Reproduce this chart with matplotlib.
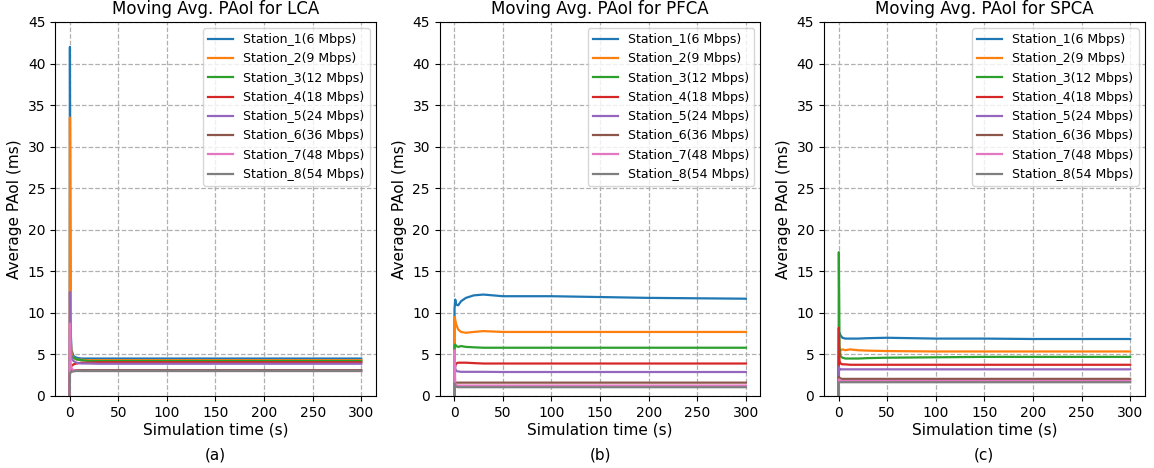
import matplotlib
matplotlib.use("Agg")
import matplotlib.pyplot as plt

t = [0, 0.3, 1, 2, 4, 7, 12, 20, 30, 50, 100, 150, 200, 250, 300]

labels = ["Station_1(6 Mbps)", "Station_2(9 Mbps)", "Station_3(12 Mbps)",
          "Station_4(18 Mbps)", "Station_5(24 Mbps)", "Station_6(36 Mbps)",
          "Station_7(48 Mbps)", "Station_8(54 Mbps)"]

titles = ["Moving Avg. PAoI for LCA", "Moving Avg. PAoI for PFCA", "Moving Avg. PAoI for SPCA"]
captions = ["(a)", "(b)", "(c)"]

lca = [
    [0, 42.0, 8.0, 5.5, 4.8, 4.6, 4.5, 4.5, 4.5, 4.5, 4.5, 4.5, 4.5, 4.5, 4.5],
    [0, 33.5, 7.0, 5.0, 4.6, 4.4, 4.35, 4.3, 4.3, 4.3, 4.3, 4.3, 4.3, 4.3, 4.3],
    [0, 4.5, 4.9, 4.8, 4.6, 4.4, 4.3, 4.2, 4.2, 4.2, 4.2, 4.2, 4.2, 4.2, 4.2],
    [0, 3.0, 3.5, 3.6, 3.8, 3.9, 4.0, 4.0, 4.05, 4.05, 4.05, 4.05, 4.05, 4.05, 4.05],
    [0, 12.5, 5.7, 4.5, 4.2, 4.0, 3.9, 3.9, 3.87, 3.87, 3.87, 3.87, 3.87, 3.87, 3.87],
    [0, 2.8, 3.0, 3.1, 3.1, 3.1, 3.1, 3.1, 3.1, 3.1, 3.1, 3.1, 3.1, 3.1, 3.1],
    [0, 8.7, 4.0, 3.3, 3.1, 3.05, 3.0, 3.0, 3.0, 3.0, 3.0, 3.0, 3.0, 3.0, 3.0],
    [0, 2.7, 2.8, 2.9, 2.95, 3.0, 3.0, 3.0, 3.0, 3.0, 3.0, 3.0, 3.0, 3.0, 3.0],
]

pfca = [
    [0, 10.5, 11.6, 11.0, 10.9, 11.4, 11.8, 12.1, 12.2, 12.0, 12.0, 11.9, 11.8, 11.75, 11.7],
    [0, 9.5, 9.2, 8.6, 8.0, 7.7, 7.6, 7.7, 7.8, 7.7, 7.7, 7.7, 7.7, 7.7, 7.7],
    [0, 6.0, 6.2, 6.0, 5.9, 6.0, 5.9, 5.85, 5.8, 5.8, 5.8, 5.8, 5.8, 5.8, 5.8],
    [0, 3.2, 3.6, 3.9, 4.0, 4.0, 4.0, 3.95, 3.9, 3.9, 3.9, 3.9, 3.9, 3.9, 3.9],
    [0, 5.0, 3.3, 3.0, 2.95, 2.9, 2.9, 2.9, 2.9, 2.88, 2.88, 2.88, 2.88, 2.88, 2.88],
    [0, 1.7, 1.6, 1.6, 1.6, 1.6, 1.6, 1.6, 1.6, 1.6, 1.6, 1.6, 1.6, 1.6, 1.6],
    [0, 5.5, 1.4, 1.3, 1.25, 1.25, 1.25, 1.25, 1.25, 1.25, 1.25, 1.25, 1.25, 1.25, 1.25],
    [0, 1.5, 1.2, 1.1, 1.05, 1.05, 1.05, 1.05, 1.05, 1.05, 1.05, 1.05, 1.05, 1.05, 1.05],
]

spca = [
    [0, 7.5, 7.6, 7.3, 7.0, 6.9, 6.9, 6.9, 6.95, 7.0, 6.9, 6.9, 6.85, 6.85, 6.85],
    [0, 5.0, 5.2, 5.5, 5.6, 5.5, 5.6, 5.5, 5.45, 5.4, 5.35, 5.35, 5.35, 5.35, 5.35],
    [0, 17.3, 6.0, 4.8, 4.6, 4.5, 4.5, 4.5, 4.55, 4.6, 4.65, 4.7, 4.7, 4.7, 4.7],
    [0, 8.2, 4.2, 3.9, 3.8, 3.8, 3.75, 3.75, 3.75, 3.75, 3.75, 3.75, 3.75, 3.75, 3.75],
    [0, 3.5, 3.1, 3.2, 3.2, 3.2, 3.2, 3.2, 3.2, 3.2, 3.2, 3.2, 3.2, 3.2, 3.2],
    [0, 2.3, 2.2, 2.1, 2.05, 2.05, 2.05, 2.05, 2.05, 2.05, 2.05, 2.05, 2.05, 2.05, 2.05],
    [0, 2.0, 1.85, 1.8, 1.8, 1.8, 1.8, 1.8, 1.8, 1.8, 1.8, 1.8, 1.8, 1.8, 1.8],
    [0, 1.6, 1.65, 1.65, 1.65, 1.65, 1.65, 1.65, 1.65, 1.65, 1.65, 1.65, 1.65, 1.65, 1.65],
]

fig = plt.figure(figsize=(11.54, 4.68), dpi=100)
lefts = [0.0477, 0.381, 0.714]

for i, series in enumerate([lca, pfca, spca]):
    ax = fig.add_axes([lefts[i], 0.154, 0.278, 0.799])
    for vals, lab in zip(series, labels):
        ax.plot(t, vals, label=lab, linewidth=1.6)
    ax.set_xlim(-15, 315)
    ax.set_ylim(0, 45)
    ax.set_xticks(range(0, 301, 50))
    ax.set_yticks(range(0, 46, 5))
    ax.tick_params(labelsize=10)
    ax.grid(True, linestyle="--", color="#b0b0b0", linewidth=0.9)
    ax.set_title(titles[i], fontsize=12)
    ax.set_xlabel("Simulation time (s)", fontsize=11, labelpad=2)
    ax.set_ylabel("Average PAoI (ms)", fontsize=11)
    ax.legend(loc="upper right", fontsize=9)
    # sub-figure caption under each panel
    ax.text(0.5, -0.158, captions[i], transform=ax.transAxes, ha="center", va="center", fontsize=11)

fig.savefig("out.png", dpi=100)
